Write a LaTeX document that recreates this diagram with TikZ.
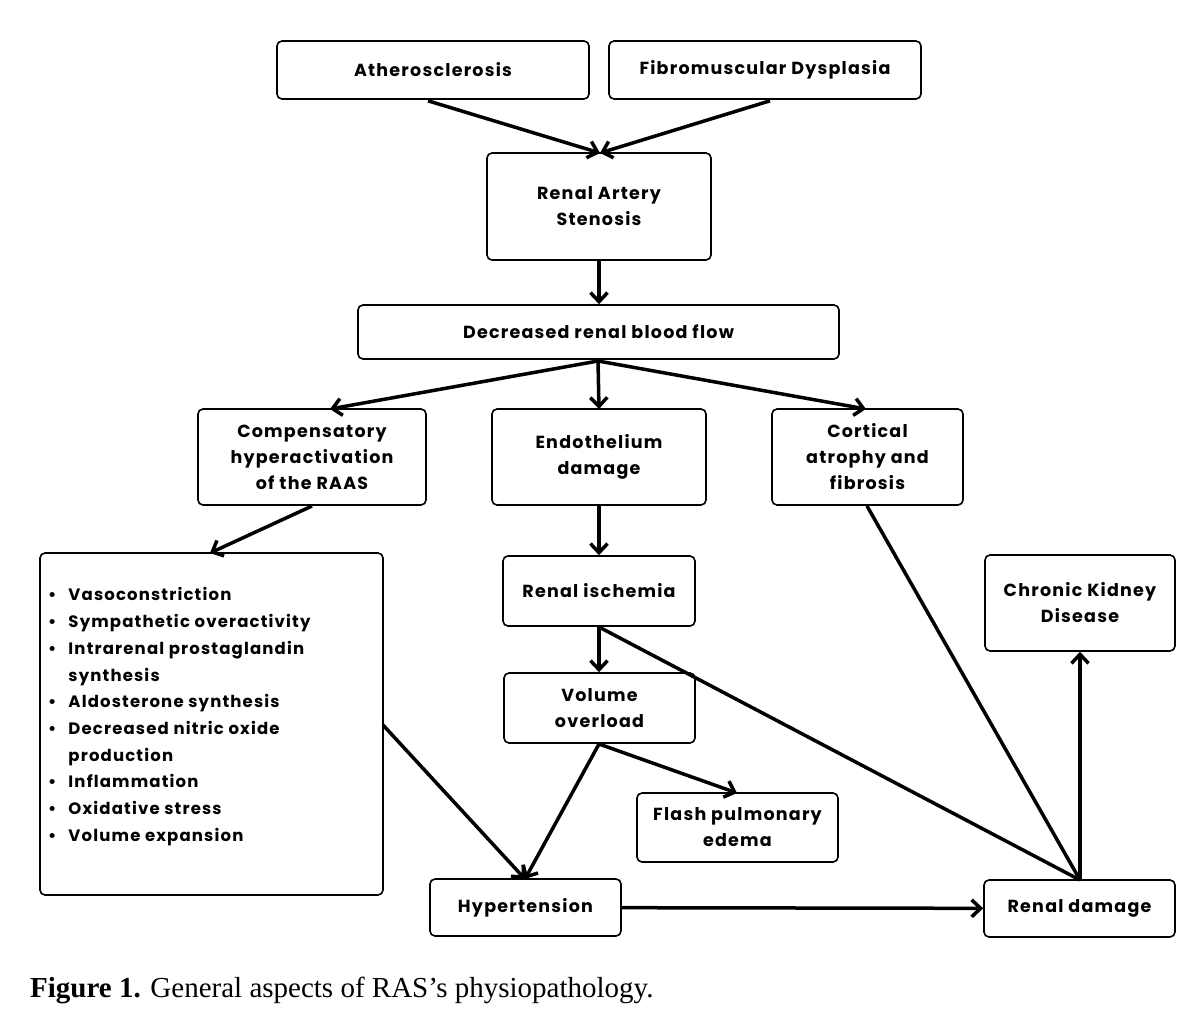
\documentclass[tikz,border=0pt]{standalone}
\usepackage{fontspec}
\setmainfont{Liberation Serif}
\newfontfamily\pop{Poppins}[UprightFont=* Bold,LetterSpace=7]
\usetikzlibrary{arrows.meta}
\begin{document}
\begin{tikzpicture}[x=1pt,y=-1pt,
  box/.style={draw,line width=1.6pt,rounded corners=5pt,font=\pop\fontsize{17.5}{26}\selectfont,align=center,inner sep=0pt},
  arr/.style={line width=3.5pt,-{Straight Barb[length=9pt,width=17pt,line width=3.5pt]}}]
\useasboundingbox (0,0) rectangle (1200,1010);
\fill[white] (0,0) rectangle (1200,1010);
\newcommand\bx[6]{\node[box,minimum width=#4-#2,minimum height=#5-#3] (#1) at ({(#2+#4)/2},{(#3+#5)/2}) {#6};}
\bx{ath}{277}{41}{589}{99}{Atherosclerosis}
\bx{fmd}{609}{41}{921}{99}{Fibromuscular Dysplasia}
\bx{ras}{487}{153}{711}{260}{Renal Artery\\Stenosis}
\bx{drbf}{358}{305}{839}{359}{Decreased renal blood flow}
\bx{comp}{198}{409}{426}{505}{Compensatory\\hyperactivation\\of the RAAS}
\bx{endo}{492}{409}{706}{505}{Endothelium\\damage}
\bx{cort}{772}{409}{963}{505}{Cortical\\atrophy and\\fibrosis}
\bx{list}{40}{553}{383}{895}{}
\bx{isch}{503}{556}{695}{626}{Renal ischemia}
\bx{ckd}{985}{555}{1175}{651}{Chronic Kidney\\Disease}
\bx{vol}{504}{673}{695}{743}{Volume\\overload}
\bx{fpe}{637}{793}{838}{862}{Flash pulmonary\\edema}
\bx{htn}{430}{879}{621}{936}{Hypertension}
\bx{rd}{984}{880}{1175}{937}{Renal damage}
\node[anchor=north west,inner sep=0pt,font=\pop\fontsize{16.5}{26.7}\selectfont,align=left] (items) at (48,582) {%
\begin{tabular}{@{}l@{\hspace{12pt}}l@{}}
\textbullet & Vasoconstriction\\
\textbullet & Sympathetic overactivity\\
\textbullet & Intrarenal prostaglandin\\
 & synthesis\\
\textbullet & Aldosterone synthesis\\
\textbullet & Decreased nitric oxide\\
 & production\\
\textbullet & Inflammation\\
\textbullet & Oxidative stress\\
\textbullet & Volume expansion
\end{tabular}};
\coordinate (m1) at (600,153);
\draw[arr] (ath.south) ++(-5,1) coordinate (a1) (a1) -- (m1);
\draw[arr] (fmd.south) ++(5,1) coordinate (a2) (a2) -- (m1);
\draw[arr] (ras) -- (ras|-drbf.north);
\coordinate (d0) at (598,361);
\draw[arr] (d0) -- (330,409);
\draw[arr] (d0) -- (599,409);
\draw[arr] (d0) -- (866,409);
\draw[arr] (312,506) -- (210,553);
\draw[arr] (endo) -- (endo|-isch.north);
\draw[arr] (isch) -- (isch|-vol.north);
\coordinate (r0) at (1080,880);
\draw[line width=3.5pt] (599,627) -- (r0);
\draw[line width=3.5pt] (867,506) -- (r0);
\coordinate (v0) at (599,744);
\draw[arr] (v0) -- (525,879);
\draw[arr] (v0) -- (737,793);
\draw[arr] (383,725) -- (525,879);
\draw[arr] (htn) -- (rd);
\draw[arr] (r0) -- (ckd);
\node[anchor=west,inner sep=0pt,font=\fontsize{29}{32}\selectfont] (cap) at (30,990) {\textbf{Figure 1.} General aspects of RAS’s physiopathology.};
\end{tikzpicture}
\end{document}
